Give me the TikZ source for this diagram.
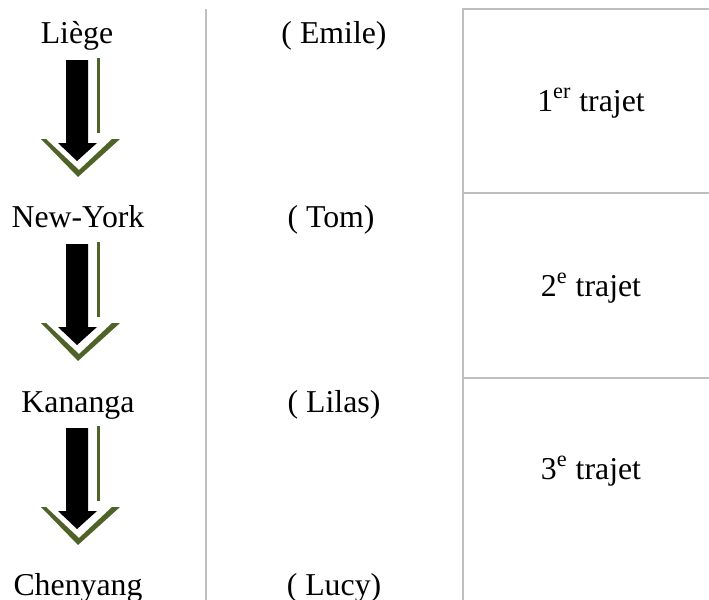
\documentclass[tikz,border=0pt]{standalone}
\usepackage{fontspec}
\setmainfont{Liberation Serif}
\usetikzlibrary{calc}

\definecolor{olivegreen}{RGB}{79,98,40}
\definecolor{rulegray}{RGB}{191,191,191}

\begin{document}
\begin{tikzpicture}[
        x=0.5pt, y=-0.5pt,
        every node/.style={inner sep=0pt, font=\fontsize{15.9}{19}\selectfont},
        rule/.style={draw=rulegray, line width=0.75pt},
        trip arrow/.pic={
            \fill[black] (-11,0) -- (11,0) -- (11,83) -- (20,83) -- (0,101) -- (-19,83) -- (-11,83) -- cycle;
            \draw[olivegreen, line width=1.5pt] (21.5,-2) -- (21.5,73);
            \fill[olivegreen] (-36,79) -- (1,117) -- (43,79) -- (35,79) -- (2,110) -- (-31,79) -- cycle;
        }
    ]
    \useasboundingbox (0,0) rectangle (709,600);

    % Table rules
    \draw[rule] (206,9) -- (206,600);
    \draw[rule] (463,9) -- (463,600);
    \draw[rule] (462,9) -- (709,9);
    \draw[rule] (462,193) -- (709,193);
    \draw[rule] (462,378) -- (709,378);

    % Cities
    \node[anchor=base] (liege) at (77,43) {Liège};
    \node[anchor=base] (newyork) at (78,227) {New-York};
    \node[anchor=base] (kananga) at (78,412) {Kananga};
    \node[anchor=base] (chenyang) at (78,595) {Chenyang};

    % Arrows between cities
    \pic at ($(liege.base) + (0,17)$) {trip arrow};
    \pic at ($(newyork.base) + (-1,17)$) {trip arrow};
    \pic at ($(kananga.base) + (-1,16)$) {trip arrow};

    % Persons
    \node[anchor=base] (emile) at (334,43) {( Emile)};
    \node[anchor=base] (tom) at (331,227) {( Tom)};
    \node[anchor=base] (lilas) at (334,412) {( Lilas)};
    \node[anchor=base] (lucy) at (334,595) {( Lucy)};

    % Trips
    \node[anchor=base] (trajet1) at (591,111) {1\textsuperscript{er} trajet};
    \node[anchor=base] (trajet2) at (591,296) {2\textsuperscript{e} trajet};
    \node[anchor=base] (trajet3) at (591,479) {3\textsuperscript{e} trajet};
\end{tikzpicture}
\end{document}
